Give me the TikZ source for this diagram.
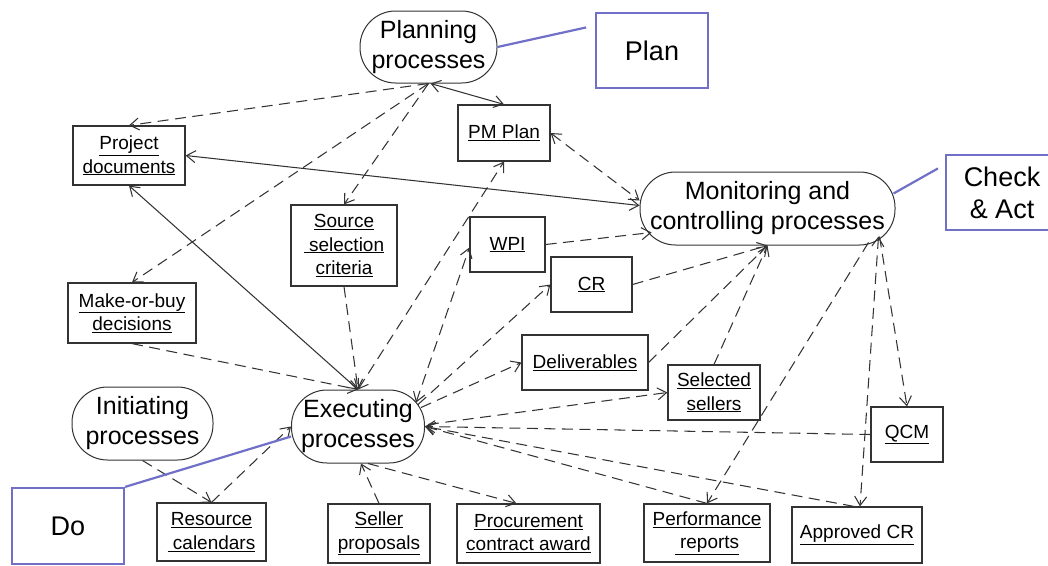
\documentclass[tikz,border=0pt]{standalone}
\usepackage{fontspec}
\setmainfont{Liberation Sans}
\usetikzlibrary{arrows.meta,calc}
\definecolor{edge}{HTML}{333333}
\definecolor{pdca}{HTML}{7070C8}

\tikzset{
  >={Straight Barb[length=9pt,width=12pt]},
  proc/.style={draw=edge, line width=1pt, rounded corners=35.5pt, inner sep=0pt,
    align=center, font=\fontsize{25}{30}\selectfont},
  item/.style={draw=edge, line width=1.2pt, inner sep=0pt, align=center,
    font=\fontsize{19}{23.5}\selectfont},
  pdcabox/.style={draw=pdca, line width=2.2pt, inner sep=0pt, align=center,
    minimum width=112pt, font=\fontsize{27}{32}\selectfont},
  dl/.style={draw=edge, line width=1.05pt, dash pattern=on 11pt off 6.5pt},
  sl/.style={draw=edge, line width=1.05pt},
  bl/.style={draw=pdca, line width=2.2pt},
}

\begin{document}
\begin{tikzpicture}[x=1pt,y=-1pt]
\useasboundingbox (0,0) rectangle (1048,565);
\fill[white] (0,0) rectangle (1048,565);

% process groups
\node[proc, minimum width=137pt, minimum height=72pt] (planning) at (428.5,47) {Planning\\processes};
\node[proc, minimum width=255pt, minimum height=73pt] (mon) at (767.5,208.5) {Monitoring and\\controlling processes};
\node[proc, minimum width=141pt, minimum height=73pt] (init) at (142.5,423.5) {Initiating\\processes};
\node[proc, minimum width=133pt, minimum height=73pt] (exec) at (358,426.5) {Executing\\processes};

% PDCA labels
\node[pdcabox, minimum height=75pt] (planbox) at (652,50.5) {Plan};
\node[pdcabox, minimum height=75pt] (chk) at (1002,192.5) {Check\\\& Act};
\node[pdcabox, minimum height=76pt] (dobox) at (68,526) {Do};

% inputs and outputs
\node[item, minimum width=112pt, minimum height=59pt] (pd) at (129,155.5) {\underline{Project}\\\underline{documents}};
\node[item, minimum width=92pt, minimum height=56pt] (pmplan) at (504,133) {\underline{PM Plan}};
\node[item, minimum width=106pt, minimum height=81pt] (ssc) at (344,245.5) {\underline{Source}\\\underline{\ selection}\\\underline{criteria}};
\node[item, minimum width=128pt, minimum height=60pt] (mob) at (132,313) {\underline{Make-or-buy}\\\underline{decisions}};
\node[item, minimum width=75pt, minimum height=55pt] (wpi) at (507.5,244.5) {\underline{WPI}};
\node[item, minimum width=81pt, minimum height=55pt] (cr) at (591.5,284.5) {\underline{CR}};
\node[item, minimum width=126pt, minimum height=55pt] (deliv) at (585,362.5) {\underline{Deliverables}};
\node[item, minimum width=92pt, minimum height=55pt] (ss) at (714,392.5) {\underline{Selected}\\\underline{sellers}};
\node[item, minimum width=72pt, minimum height=55pt] (qcm) at (907,434.5) {\underline{QCM}};
\node[item, minimum width=130pt, minimum height=56pt] (appr) at (857,535) {\underline{Approved CR}};
\node[item, minimum width=126pt, minimum height=58pt] (perf) at (707,533) {\underline{Performance}\\\underline{\ reports}};
\node[item, minimum width=143pt, minimum height=59pt] (pca) at (528.5,533.5) {\underline{Procurement}\\\underline{contract award}};
\node[item, minimum width=102pt, minimum height=59pt] (sp) at (379,533.5) {\underline{Seller}\\\underline{proposals}};
\node[item, minimum width=109pt, minimum height=58pt] (rc) at (211.5,532) {\underline{Resource}\\\underline{\ calendars}};

% planning outputs
\draw[dl,->] (planning.south) -- (pd.north);
\draw[dl,->] (planning.south) -- (mob.north);
\draw[dl,->] (planning.south) -- (ssc.north);
\draw[sl,<->] ([xshift=2pt]planning.south) -- (pmplan.north);

% shared documents and plan
\draw[sl,<->] (pd.east) -- ($(mon.west)+(0,-3)$);
\draw[dl,<->] (pmplan.east) -- ($(mon.west)+(0,-8)$);
\draw[sl,<->] (pd.south) -- (exec.north);

% executing inputs from above
\draw[dl,->] (mob.south) -- (exec.north);
\draw[dl,->] (ssc.south) -- (exec.north);
\draw[dl,<->] (exec.north) -- (pmplan.south);

% executing outputs
\draw[dl,<->] ($(exec.center)+(58,-24)$) -- ($(wpi.west)+(0,3)$);
\draw[dl,->] ($(exec.center)+(60,-22)$) -- (cr.west);
\draw[dl,->] ($(exec.center)+(63,-19)$) -- (deliv.west);
\draw[dl,->] ($(exec.east)+(3,-2)$) -- (ss.west);

% monitoring inputs
\draw[dl,->] (wpi.east) -- ($(mon.center)+(-116,24)$);
\draw[dl,->] (cr.east) -- (mon.south);
\draw[dl,->] (deliv.east) -- (mon.south);
\draw[dl,->] (ss.north) -- (mon.south);

% monitoring outputs
\draw[dl,->] ($(mon.center)+(101,34)$) -- (perf.north);
\draw[dl,<->] ($(mon.center)+(111,28)$) -- ([xshift=3pt]appr.north);
\draw[dl,->] ($(mon.center)+(112,28)$) -- (qcm.north);

% feedback to executing
\draw[dl,->] (qcm.west) -- (exec.east);
\draw[dl,->] (perf.north) -- (exec.east);
\draw[dl,->] ([xshift=-3pt]appr.north) -- (exec.east);

% lower row
\draw[dl,->] (init.south) -- (rc.north);
\draw[dl,->] (rc.north) -- (exec.west);
\draw[dl,->] (sp.north) -- ([xshift=3pt]exec.south);
\draw[dl,->] ([xshift=10pt]exec.south) -- ([xshift=-12pt]pca.north);

% PDCA pointers
\draw[bl, shorten >=9pt] (planning.east) -- ($(planbox.west)+(0,-25)$);
\draw[bl, shorten >=8pt] ($(mon.center)+(126,-15)$) -- ($(chk.west)+(0,-28)$);
\draw[bl] (dobox.north east) -- ($(exec.west)+(0,10)$);
\end{tikzpicture}
\end{document}
